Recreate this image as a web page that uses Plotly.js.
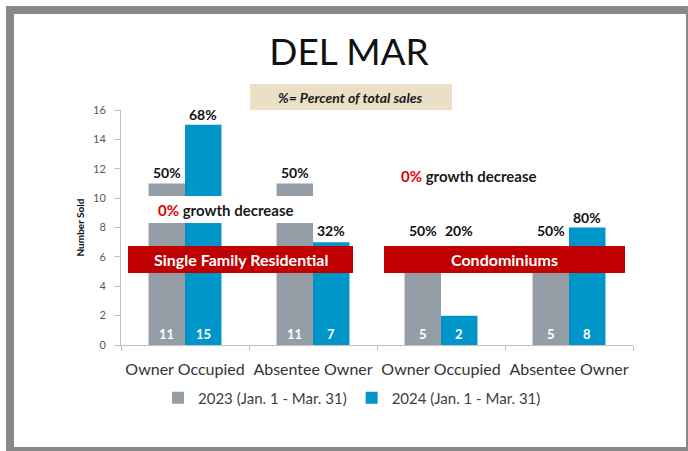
<!DOCTYPE html>
<html>
<head>
<meta charset="utf-8">
<script src="https://cdn.plot.ly/plotly-3.0.1.min.js"></script>
<style>
html,body{margin:0;padding:0;background:#fff;}
#chart{width:688px;height:451px;}
</style>
</head>
<body>
<div id="chart"></div>
<script>
// ---- data ----
const categories = ['Owner Occupied', 'Absentee Owner', 'Owner Occupied', 'Absentee Owner'];
const seriesNames = ['2023 (Jan. 1 - Mar. 31)', '2024 (Jan. 1 - Mar. 31)'];
const sold2023 = [11, 11, 5, 5];
const sold2024 = [15, 7, 2, 8];
const pct2023 = ['50%', '50%', '50%', '50%'];
const pct2024 = ['68%', '32%', '20%', '80%'];
const segmentLabels = ['Single Family Residential', 'Condominiums'];
const growthLabels = ['0%', '0%'];
const yTicks = [0, 2, 4, 6, 8, 10, 12, 14, 16];

// ---- geometry helpers (pixel -> paper) ----
const W = 688, H = 451;
const L = 121, R = 633, T = 110, B = 345;
const PX = p => (p - L) / (R - L);
const PY = p => (B - p) / (B - T);

const bargap = 0.43;
const off = (1 - bargap) / 4;
const idx = categories.map((c, i) => i);

const GRAY = '#959ea6', BLUE = '#0096c9', RED = '#c00000';
const FONT = 'Lato, "Open Sans", sans-serif';

const traces = [
  {type: 'bar', name: seriesNames[0], x: idx, y: sold2023, marker: {color: GRAY}, hoverinfo: 'skip'},
  {type: 'bar', name: seriesNames[1], x: idx, y: sold2024, marker: {color: BLUE}, hoverinfo: 'skip'}
];

function rect(x0, y0, x1, y1, color, layer) {
  return {type: 'rect', xref: 'paper', yref: 'paper', x0: PX(x0), x1: PX(x1), y0: PY(y1), y1: PY(y0),
          fillcolor: color, line: {width: 0}, layer: layer || 'above'};
}

const shapes = [
  rect(6, 6, 688, 451, '#888888', 'below'),
  rect(14, 14, 686, 447, '#ffffff', 'below'),
  rect(250, 84, 452, 110, '#ebdfc6', 'above'),
  rect(145, 196, 318, 223, '#ffffff', 'above'),
  rect(128, 246, 353, 273, RED, 'above'),
  rect(384, 246, 625, 273, RED, 'above')
];

const annotations = [];
// subtitle
annotations.push({xref: 'paper', yref: 'paper', x: PX(350), y: PY(97), xanchor: 'center', yanchor: 'middle',
  text: '<b><i>%= Percent of total sales</i></b>', showarrow: false, font: {family: FONT, size: 14, color: '#1a1a1a'}});
// segment banners
annotations.push({xref: 'paper', yref: 'paper', x: PX(240.5), y: PY(259.5), xanchor: 'center', yanchor: 'middle',
  text: '<b>' + segmentLabels[0] + '</b>', showarrow: false, font: {family: FONT, size: 16, color: '#ffffff'}});
annotations.push({xref: 'paper', yref: 'paper', x: PX(504.5), y: PY(259.5), xanchor: 'center', yanchor: 'middle',
  text: '<b>' + segmentLabels[1] + '</b>', showarrow: false, font: {family: FONT, size: 16, color: '#ffffff'}});
// growth notes
const growthPos = [[156, 210], [399, 176]];
growthLabels.forEach((g, i) => {
  annotations.push({xref: 'paper', yref: 'paper', x: PX(growthPos[i][0]), y: PY(growthPos[i][1]), xanchor: 'left', yanchor: 'middle',
    text: '<b><span style="color:#e00000">' + g + '</span> growth decrease</b>', showarrow: false,
    font: {family: FONT, size: 15, color: '#1a1a1a'}});
});
// percent labels (raised above the banner when the bar top is hidden)
const floorVal = 7.1;
idx.forEach(i => {
  [[sold2023, pct2023, -off], [sold2024, pct2024, off]].forEach(([vals, pcts, dx]) => {
    const v = vals[i];
    const y = (v < floorVal) ? floorVal : v;
    annotations.push({xref: 'x', yref: 'y', x: i + dx, y: y, xanchor: 'center', yanchor: 'bottom',
      text: '<b>' + pcts[i] + '</b>', showarrow: false, font: {family: FONT, size: 14, color: '#111111'}});
    annotations.push({xref: 'x', yref: 'y', x: i + dx, y: 0, xanchor: 'center', yanchor: 'bottom', yshift: 1,
      text: '<b>' + v + '</b>', showarrow: false, font: {family: FONT, size: 13, color: '#ffffff'}});
  });
});

const layout = {
  width: W, height: H,
  margin: {l: L, r: W - R, t: T, b: H - B, pad: 0},
  paper_bgcolor: '#ffffff', plot_bgcolor: 'rgba(0,0,0,0)',
  barmode: 'group', bargap: bargap, bargroupgap: 0,
  title: {text: 'DEL MAR', x: 349 / W, xanchor: 'center', y: 1 - 52 / H, yanchor: 'middle',
          font: {family: FONT, size: 37, color: '#111111'}},
  showlegend: true,
  legend: {orientation: 'h', x: PX(352), xanchor: 'center', y: PY(398), yanchor: 'middle',
           font: {family: FONT, size: 15, color: '#404040'}, bgcolor: 'rgba(0,0,0,0)', itemwidth: 30,
           traceorder: 'normal'},
  xaxis: {range: [-0.5, 3.5], tickmode: 'array', tickvals: idx, ticktext: categories, ticks: '',
          showline: true, linecolor: '#bfbfbf', linewidth: 1, showgrid: false, zeroline: false,
          tickfont: {family: FONT, size: 16, color: '#333333'}, ticklabelstandoff: 10, fixedrange: true,
          minor: {tickmode: 'array', tickvals: [-0.5, 0.5, 1.5, 2.5, 3.5], ticks: 'outside', ticklen: 5,
                  tickcolor: '#bfbfbf', tickwidth: 1, showgrid: false}},
  yaxis: {range: [0, 16], tickmode: 'array', tickvals: yTicks, ticks: 'outside', ticklen: 6, tickcolor: '#bfbfbf',
          showline: true, linecolor: '#bfbfbf', linewidth: 1, showgrid: false, zeroline: false,
          tickfont: {family: FONT, size: 11, color: '#595959'}, ticklabelstandoff: 6, fixedrange: true,
          title: {text: '<b>Number Sold</b>', font: {family: FONT, size: 10, color: '#111111'}, standoff: 6}},
  shapes: shapes,
  annotations: annotations
};

Plotly.newPlot('chart', traces, layout, {displayModeBar: false, staticPlot: true});
</script>
</body>
</html>
